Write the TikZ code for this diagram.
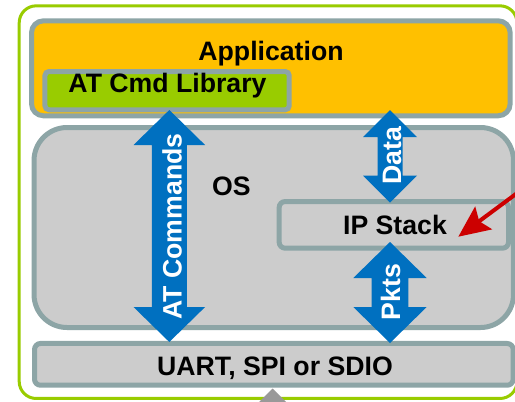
\documentclass[tikz,border=0pt]{standalone}
\usepackage{fontspec}
\setmainfont{Liberation Sans}
\usetikzlibrary{arrows.meta}

\definecolor{appOrange}{HTML}{FFC000}
\definecolor{libGreen}{HTML}{99CC00}
\definecolor{frameGreen}{HTML}{99CC00}
\definecolor{layerGray}{HTML}{CCCCCC}
\definecolor{edgeGray}{HTML}{8DA5A6}
\definecolor{arrowBlue}{HTML}{0070C0}
\definecolor{pointerRed}{HTML}{CC0000}
\definecolor{feedGray}{HTML}{999999}

% vertical double-headed block arrow:
% #1 centre x, #2 top tip y, #3 bottom tip y, #4 head half-width, #5 head length, #6 shaft half-width
\newcommand\blockdblarrow[6]{%
  \fill[arrowBlue] (#1,#2) -- (#1+#4,#2+#5) -- (#1+#6,#2+#5) -- (#1+#6,#3-#5)
    -- (#1+#4,#3-#5) -- (#1,#3) -- (#1-#4,#3-#5) -- (#1-#6,#3-#5)
    -- (#1-#6,#2+#5) -- (#1-#4,#2+#5) -- cycle;}

\begin{document}
\begin{tikzpicture}[x=0.75pt,y=-0.75pt,
  layer/.style={rectangle, draw=edgeGray, line width=3.75pt, inner sep=0pt, outer sep=0pt},
  lbl/.style={font=\fontsize{20pt}{22pt}\selectfont\bfseries, inner sep=0pt, anchor=base},
  arrowlbl/.style={lbl, text=white, rotate=90},
  pointer/.style={draw=pointerRed, line width=3pt,
    -{Stealth[length=23.5pt, width=21pt, inset=4pt, fill=pointerRed]}},
]
\useasboundingbox (0,0) rectangle (515,401);
\clip (0,0) rectangle (515,401);
\fill[white] (0,0) rectangle (515,401);

% outer frame
\node[rectangle, draw=frameGreen, line width=2.25pt, rounded corners=12.75pt,
      minimum width=373.35pt, minimum height=294.5pt, inner sep=0pt, outer sep=0pt]
      (frame) at (268.1,202.15) {};

% layers
\node[layer, fill=appOrange, rounded corners=9pt,
      minimum width=359pt, minimum height=71.25pt] (app) at (270.85,68.3) {};
\node[layer, fill=libGreen, rounded corners=3pt,
      minimum width=183.2pt, minimum height=28.7pt] (lib) at (167.1,90.65) {};
\node[layer, fill=layerGray, rounded corners=24.75pt,
      minimum width=359.6pt, minimum height=150pt] (os) at (273.75,227.5) {};
\node[layer, fill=layerGray, rounded corners=4.5pt,
      minimum width=172pt, minimum height=35pt] (ip) at (393.85,224.85) {};
\node[layer, fill=layerGray, rounded corners=4.5pt,
      minimum width=359pt, minimum height=31.3pt] (bus) at (273.85,364.35) {};

% layer captions
\node[lbl] (appText) at (271,60) {Application};
\node[lbl] (libText) at (167.5,92.5) {AT Cmd Library};
\node[lbl] (osText) at (231.5,195) {OS};
\node[lbl] (ipText) at (395,234.5) {IP Stack};
\node[lbl] (busText) at (275,375) {UART, SPI or SDIO};

% data paths between layers
\blockdblarrow{169.3}{110}{342}{35.8}{35}{17.5}
\blockdblarrow{390}{110}{202.5}{27}{27}{12.5}
\blockdblarrow{390}{242}{343}{36.7}{36}{18.3}

\node[arrowlbl] (atText) at (181.5,226.5) {AT Commands};
\node[arrowlbl] (dataText) at (401,156) {Data};
\node[arrowlbl] (pktText) at (400,292) {Pkts};

% pointer into the IP stack
\coordinate (redStart) at (524,188);
\coordinate (redTip) at (458.3,236.7);
\draw[pointer] (redStart) -- (redTip);

% feed from below
\fill[feedGray] (272.7,388.5) -- (286,401.8) -- (259.4,401.8) -- cycle;
\end{tikzpicture}
\end{document}
